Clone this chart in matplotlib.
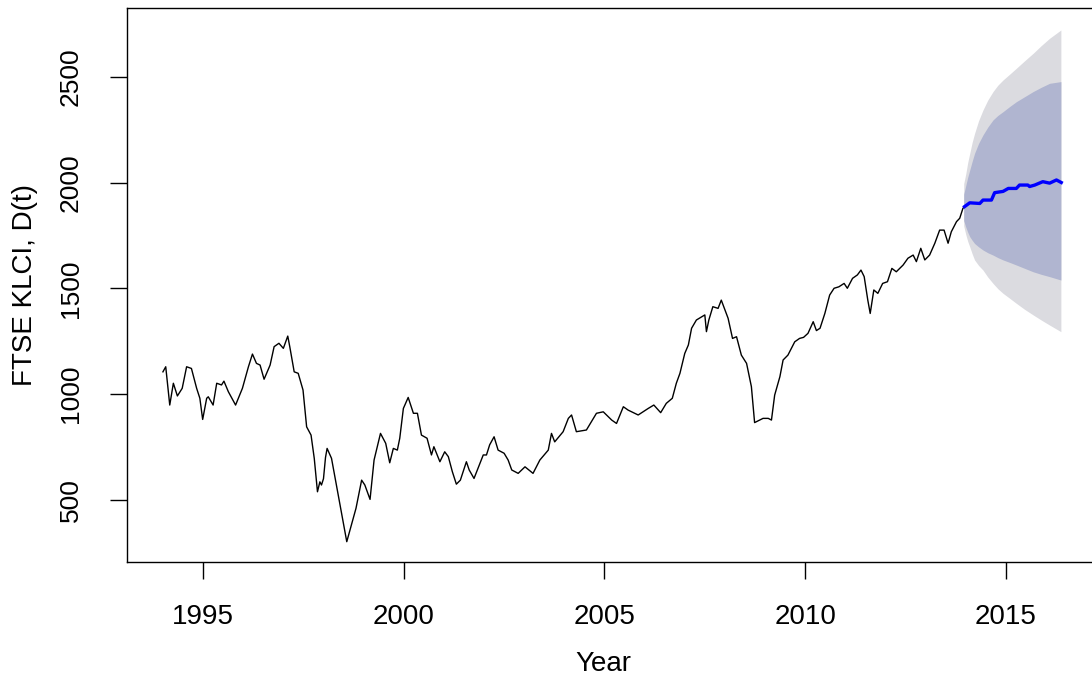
import numpy as np
import matplotlib
matplotlib.use("Agg")
import matplotlib.pyplot as plt

plt.rcParams['font.family'] = ['Liberation Sans', 'DejaVu Sans']

year = [1994.00, 1994.07, 1994.17, 1994.26, 1994.36, 1994.48, 1994.59, 1994.71, 1994.84, 1994.92,
        1994.99, 1995.09, 1995.13, 1995.25, 1995.34, 1995.46, 1995.52, 1995.63, 1995.81, 1995.98,
        1996.13, 1996.23, 1996.33, 1996.42, 1996.52, 1996.67, 1996.77, 1996.89, 1997.00, 1997.11,
        1997.16, 1997.27, 1997.37, 1997.49, 1997.58, 1997.69, 1997.77, 1997.85, 1997.91, 1997.95,
        1998.00, 1998.05, 1998.09, 1998.20, 1998.33, 1998.58, 1998.81, 1998.95, 1999.03, 1999.16,
        1999.26, 1999.42, 1999.55, 1999.65, 1999.74, 1999.84, 1999.90, 1999.99, 2000.11, 2000.24,
        2000.34, 2000.44, 2000.58, 2000.69, 2000.75, 2000.90, 2001.02, 2001.11, 2001.21, 2001.31,
        2001.41, 2001.56, 2001.63, 2001.75, 2001.88, 2001.98, 2002.06, 2002.14, 2002.25, 2002.35,
        2002.50, 2002.60, 2002.69, 2002.85, 2003.02, 2003.22, 2003.39, 2003.60, 2003.68, 2003.76,
        2003.97, 2004.10, 2004.18, 2004.30, 2004.55, 2004.80, 2004.97, 2005.18, 2005.30, 2005.47,
        2005.59, 2005.84, 2006.09, 2006.23, 2006.40, 2006.54, 2006.69, 2006.79, 2006.88, 2007.00,
        2007.09, 2007.17, 2007.29, 2007.50, 2007.54, 2007.60, 2007.70, 2007.83, 2007.91, 2008.08,
        2008.19, 2008.29, 2008.41, 2008.54, 2008.66, 2008.74, 2008.95, 2009.08, 2009.16, 2009.24,
        2009.37, 2009.45, 2009.57, 2009.74, 2009.86, 2009.96, 2010.07, 2010.20, 2010.28, 2010.37,
        2010.49, 2010.61, 2010.72, 2010.84, 2010.97, 2011.05, 2011.18, 2011.30, 2011.39, 2011.47,
        2011.56, 2011.62, 2011.71, 2011.81, 2011.93, 2012.05, 2012.16, 2012.27, 2012.44, 2012.56,
        2012.69, 2012.77, 2012.88, 2012.98, 2013.10, 2013.23, 2013.35, 2013.46, 2013.56, 2013.64,
        2013.77, 2013.85, 2013.93]
klci = [1105, 1129, 948, 1051, 991, 1027, 1129, 1121, 1027, 980,
        880, 980, 987, 948, 1051, 1043, 1061, 1011, 948, 1027,
        1129, 1189, 1145, 1137, 1070, 1137, 1224, 1240, 1216, 1274,
        1224, 1105, 1098, 1019, 845, 806, 696, 538, 585, 570,
        600, 700, 743, 696, 562, 302, 460, 593, 570, 502,
        688, 814, 767, 675, 743, 735, 791, 932, 984, 909,
        909, 806, 791, 712, 751, 680, 727, 704, 633, 574,
        593, 680, 641, 601, 664, 712, 712, 760, 798, 735,
        720, 688, 641, 625, 656, 625, 688, 735, 814, 774,
        822, 885, 901, 822, 830, 909, 916, 877, 861, 940,
        924, 901, 932, 948, 912, 956, 980, 1051, 1098, 1192,
        1232, 1311, 1350, 1374, 1295, 1350, 1413, 1405, 1444, 1358,
        1263, 1271, 1184, 1145, 1035, 865, 885, 885, 877, 995,
        1082, 1161, 1184, 1247, 1263, 1268, 1287, 1342, 1300, 1311,
        1381, 1468, 1500, 1507, 1523, 1500, 1547, 1563, 1586, 1555,
        1444, 1381, 1492, 1476, 1523, 1531, 1594, 1578, 1610, 1642,
        1657, 1626, 1689, 1634, 1657, 1713, 1775, 1775, 1713, 1767,
        1815, 1831, 1878]

# forecast mean
fc_year = [2013.97, 2014.10, 2014.35, 2014.43, 2014.64, 2014.72, 2014.93, 2015.06, 2015.26,
           2015.34, 2015.55, 2015.59, 2015.72, 2015.92, 2016.09, 2016.26, 2016.34, 2016.38]
fc_mean = [1886, 1904, 1901, 1917, 1917, 1952, 1958, 1972, 1972,
           1988, 1988, 1981, 1988, 2004, 1997, 2012, 2004, 2000]

# prediction intervals
band_year = [2013.95, 2014.00, 2014.05, 2014.10, 2014.16, 2014.22, 2014.32, 2014.43, 2014.55,
             2014.68, 2014.80, 2014.93, 2015.10, 2015.26, 2015.47, 2015.68, 2015.88, 2016.09, 2016.37]
hi95 = [1995, 2040, 2095, 2138, 2190, 2232, 2292, 2343, 2390, 2430, 2460, 2485, 2513, 2540,
        2576, 2611, 2647, 2682, 2721]
hi80 = [1945, 1985, 2025, 2059, 2100, 2138, 2185, 2225, 2262, 2296, 2317, 2335, 2360, 2382,
        2406, 2430, 2450, 2469, 2477]
lo80 = [1820, 1790, 1765, 1744, 1727, 1712, 1696, 1681, 1668, 1657, 1645, 1634, 1622, 1610,
        1594, 1578, 1566, 1555, 1539]
lo95 = [1795, 1755, 1722, 1696, 1663, 1634, 1608, 1586, 1553, 1523, 1498, 1476, 1452, 1429,
        1400, 1374, 1350, 1326, 1295]

xticks = [1995, 2000, 2005, 2010, 2015]
yticks = [500, 1000, 1500, 2000, 2500]

W, H = 1092, 682
fig = plt.figure(figsize=(W / 100, H / 100), dpi=100)
# plot region runs slightly past the right edge, like the cropped original
ax = fig.add_axes([127 / W, 1 - 562 / H, 970 / W, 554 / H])

ax.fill_between(band_year, lo95, hi95, color='#dbdbe0', lw=0)
ax.fill_between(band_year, lo80, hi80, color='#b0b5d0', lw=0)
ax.plot(year + [fc_year[0]], klci + [fc_mean[0]], color='black', lw=1.0)
ax.plot(fc_year, fc_mean, color='#0000ff', lw=2.4)

ax.set_xlim(1993.105, 2017.27)
ax.set_ylim(206, 2825)

for s in ax.spines.values():
    s.set_linewidth(1.0)

ax.set_xticks(xticks)
ax.set_xticklabels([str(t) for t in xticks], fontsize=20)
ax.set_yticks(yticks)
ax.set_yticklabels([str(t) for t in yticks], fontsize=19, rotation=90, va='center')
ax.tick_params(direction='out', length=12, width=1.0)
ax.tick_params(axis='x', pad=18)
ax.tick_params(axis='y', pad=20)

ax.set_xlabel('Year', fontsize=20)
ax.xaxis.set_label_coords((603 - 127) / 970, (562 - 664) / 554)
ax.xaxis.label.set_va('center')
ax.set_ylabel('FTSE KLCI, D(t)', fontsize=20)
ax.yaxis.set_label_coords((25 - 127) / 970, 0.5)
ax.yaxis.label.set_va('center')
ax.yaxis.label.set_ha('center')

fig.savefig('out.png', dpi=100)
